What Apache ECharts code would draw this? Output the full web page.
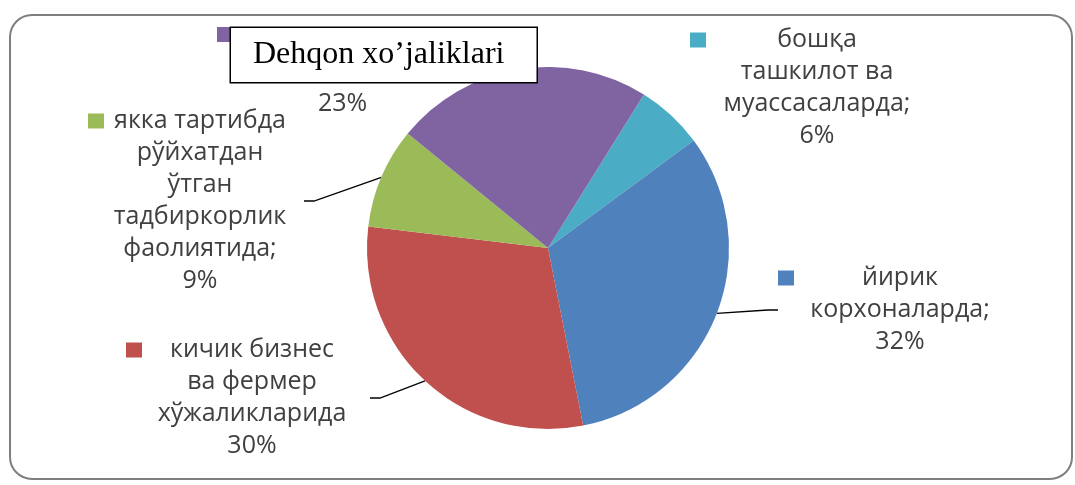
<!DOCTYPE html>
<html>
<head>
<meta charset="utf-8">
<script src="https://cdn.jsdelivr.net/npm/echarts@6/dist/echarts.min.js"></script>
<style>
  html, body { margin: 0; padding: 0; background: #fff; }
  #chart { width: 1075px; height: 485px; }
</style>
</head>
<body>
<div id="chart"></div>
<script>
// slice names (line breaks as in the picture), clockwise from the cyan slice
const CATEGORIES = [
  'бошқа\nташкилот ва\nмуассасаларда;',
  'йирик\nкорхоналарда;',
  'кичик бизнес\nва фермер\nхўжаликларида',
  'якка тартибда\nрўйхатдан\nўтган\nтадбиркорлик\nфаолиятида;',
  'Dehqon xo’jaliklari'
];
const VALUES = [6, 32, 30, 9, 23];
const COLORS = ['#4bacc6', '#4f81bd', '#c0504d', '#9bbb59', '#8064a2'];

// label placement (centre of text block), legend square left edge
const LABEL_POS = [[817, 88], [900, 310], [252, 398], [200, 201], [217, 27]];
const SQUARE_LEFT = [690, 778, 126, 88];

const FONT = 'Open Sans';
const FS = 25;
const LH = 32;
const TXT = '#404040';

let rich = {
  t: { fontFamily: FONT, fontSize: FS, color: TXT, lineHeight: LH },
  sp: { width: 16, height: 15 },
  psq: { width: 14, height: 15, backgroundColor: COLORS[4], verticalAlign: 'top' },
  box: {
    fontFamily: 'Liberation Serif', fontSize: 32, color: '#000', lineHeight: 56,
    backgroundColor: '#fff', borderColor: '#000', borderWidth: 1.5,
    padding: [11, 32, 11, 22]
  },
  pad: { width: 101, height: 2 },
  pct: { fontFamily: FONT, fontSize: FS, color: TXT, lineHeight: 42 }
};
for (let i = 0; i < 4; i++) {
  rich['sq' + i] = { width: 16, height: 15, backgroundColor: COLORS[i] };
  rich['w' + i] = {
    fontFamily: FONT, fontSize: FS, color: TXT, lineHeight: LH, align: 'center',
    width: 2 * (LABEL_POS[i][0] - SQUARE_LEFT[i]) - 32
  };
}

function labelText(i) {
  if (i === 4) {
    return '{psq|}{box|' + CATEGORIES[i] + '}\n{pad|}{pct|' + VALUES[i] + '%}';
  }
  let lines = CATEGORIES[i].split('\n');
  let out = '{sq' + i + '|}{w' + i + '|' + lines[0] + '}{sp|}';
  lines.slice(1).forEach(l => { out += '\n{t|' + l + '}'; });
  out += '\n{t|' + VALUES[i] + '%}';
  return out;
}

let data = VALUES.map((v, i) => {
  let item = { name: CATEGORIES[i], value: v, itemStyle: { color: COLORS[i] } };
  if (i === 0 || i === 4) item.labelLine = { show: false };
  return item;
});

let chart = echarts.init(document.getElementById('chart'), null, { renderer: 'canvas' });
chart.setOption({
  animation: false,
  backgroundColor: '#fff',
  graphic: [{
    type: 'rect',
    z: -10,
    shape: { x: 10, y: 15, width: 1062, height: 464, r: 22 },
    style: { fill: '#fff', stroke: '#7f7f7f', lineWidth: 2 }
  }],
  series: [{
    type: 'pie',
    center: [548, 248],
    radius: 181,
    startAngle: 58,
    clockwise: true,
    avoidLabelOverlap: false,
    data: data,
    label: {
      show: true,
      position: 'outside',
      formatter: p => labelText(p.dataIndex),
      rich: rich
    },
    labelLine: {
      show: true,
      length: 10,
      length2: 10,
      lineStyle: { color: '#000', width: 1.3 }
    },
    labelLayout: function (p) {
      let pos = LABEL_POS[p.dataIndex];
      if (p.dataIndex === 4) {
        return { x: pos[0], y: pos[1], align: 'left', verticalAlign: 'top' };
      }
      return { x: pos[0], y: pos[1], align: 'center', verticalAlign: 'middle' };
    },
    emphasis: { disabled: true }
  }]
});
</script>
</body>
</html>
